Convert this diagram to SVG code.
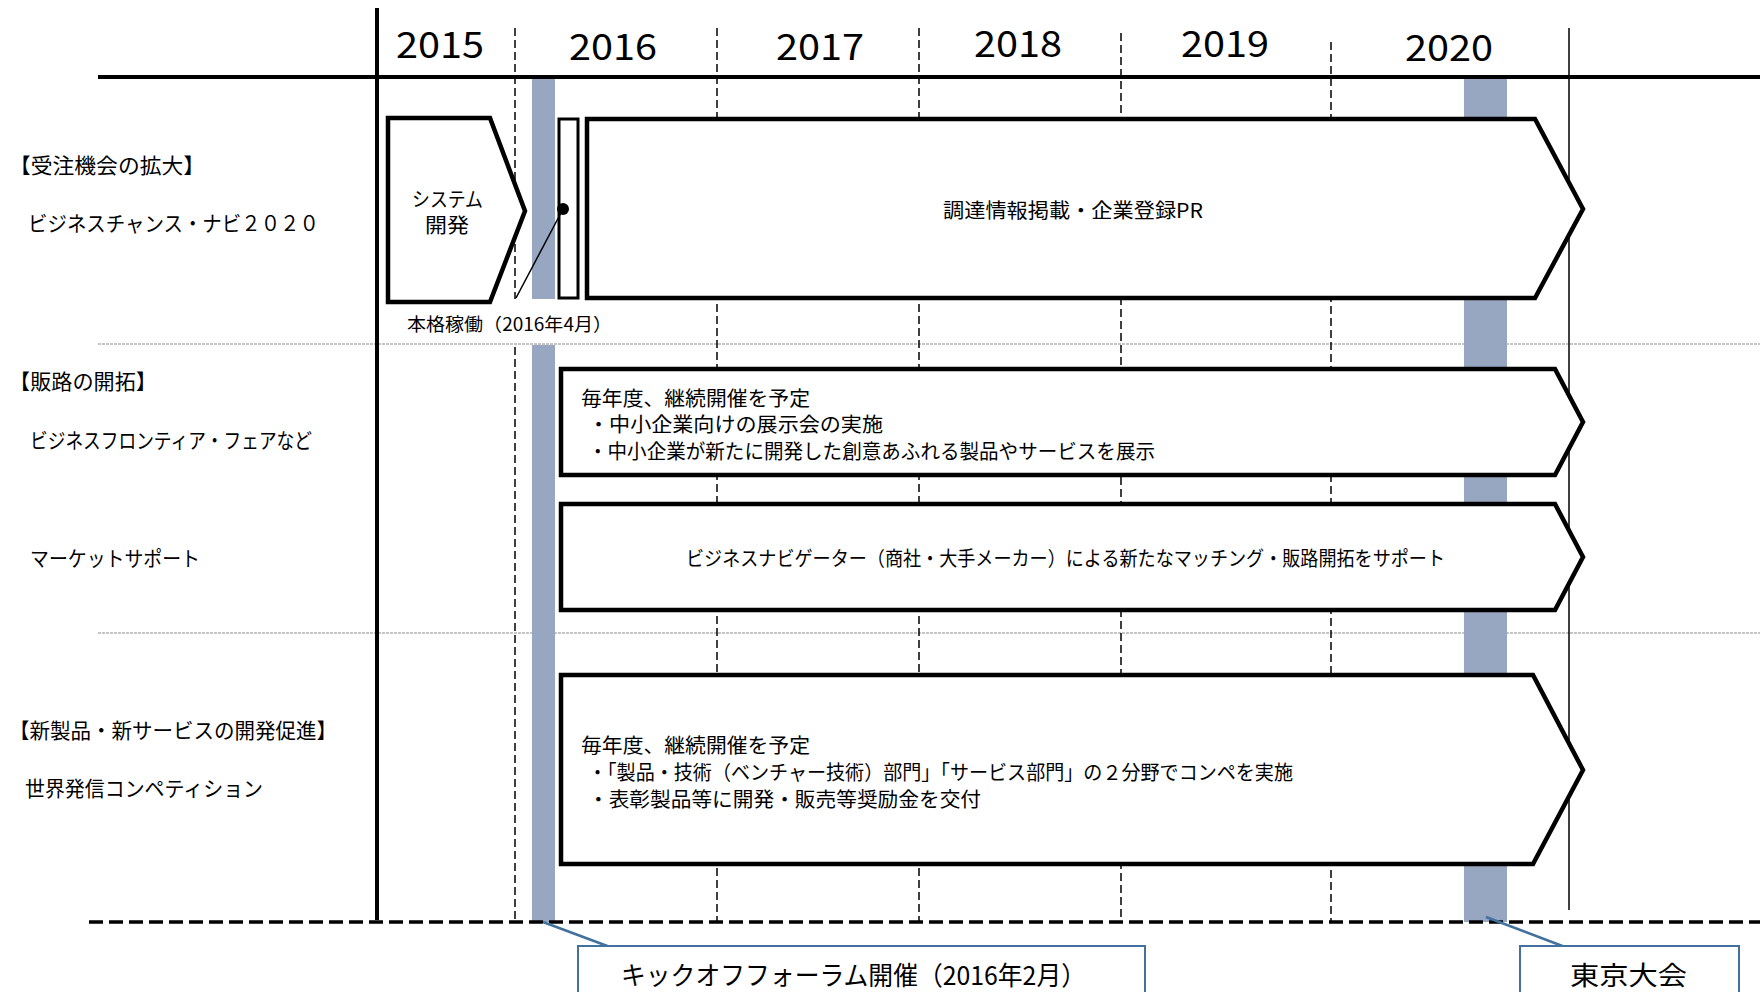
<svg xmlns="http://www.w3.org/2000/svg" width="1760" height="992" viewBox="0 0 1760 992">
<style>
text{font-family:"Noto Sans CJK JP","Noto Sans CJK SC",sans-serif;fill:#000}
.yr{font-size:36px}
.lab{font-size:21px}
.bx{font-size:20px}
.sm{font-size:18px}
.co{font-size:26px}
.box{fill:#fff;stroke:#000;stroke-width:4.5;stroke-linejoin:miter}
.vd{stroke:#000;stroke-width:1.5;stroke-dasharray:8 4;fill:none}
.sep{stroke:#8a8a8a;stroke-width:1.2;stroke-dasharray:3 1;fill:none}
.bar{fill:#98a7c1}
.cl{stroke:#41719c;stroke-width:2.5;fill:none}
.cb{fill:#fff;stroke:#41719c;stroke-width:2}
</style>
<rect width="1760" height="992" fill="#fff"/>
<g id="grid">
<line class="sep" x1="98" y1="344" x2="1760" y2="344"/>
<line class="sep" x1="98" y1="633" x2="1760" y2="633"/>
<line class="vd" x1="515" y1="28" x2="515" y2="299"/>
<line class="vd" x1="515" y1="347" x2="515" y2="922"/>
<line class="vd" x1="717" y1="28" x2="717" y2="922"/>
<line class="vd" x1="919" y1="28" x2="919" y2="922"/>
<line class="vd" x1="1121" y1="33" x2="1121" y2="922"/>
<line class="vd" x1="1331" y1="42" x2="1331" y2="922"/>
<rect class="bar" x="532" y="79" width="23" height="220"/>
<rect class="bar" x="532" y="345" width="23" height="577"/>
<rect class="bar" x="1464" y="79" width="43" height="843"/>
<line x1="98" y1="77" x2="1760" y2="77" stroke="#000" stroke-width="4"/>
<line x1="377" y1="8" x2="377" y2="920" stroke="#000" stroke-width="4"/>
<line x1="1569" y1="28" x2="1569" y2="910" stroke="#000" stroke-width="1.5"/>
<line x1="89" y1="922" x2="1760" y2="922" stroke="#000" stroke-width="3.5" stroke-dasharray="14 6"/>
</g>
<g id="years">
<text class="yr" x="396" y="58" textLength="88" lengthAdjust="spacingAndGlyphs">2015</text>
<text class="yr" x="569" y="60" textLength="88" lengthAdjust="spacingAndGlyphs">2016</text>
<text class="yr" x="776" y="60" textLength="88" lengthAdjust="spacingAndGlyphs">2017</text>
<text class="yr" x="974" y="57" textLength="88" lengthAdjust="spacingAndGlyphs">2018</text>
<text class="yr" x="1181" y="57" textLength="88" lengthAdjust="spacingAndGlyphs">2019</text>
<text class="yr" x="1405" y="61" textLength="88" lengthAdjust="spacingAndGlyphs">2020</text>
</g>
<g id="labels">
<text class="lab" x="9" y="164" dominant-baseline="central" textLength="196" lengthAdjust="spacingAndGlyphs">【受注機会の拡大】</text>
<text class="lab" x="28" y="222" dominant-baseline="central" textLength="291" lengthAdjust="spacingAndGlyphs">ビジネスチャンス・ナビ２０２０</text>
<text class="lab" x="9" y="380" dominant-baseline="central" textLength="148" lengthAdjust="spacingAndGlyphs">【販路の開拓】</text>
<text class="lab" x="30" y="439" dominant-baseline="central" textLength="282" lengthAdjust="spacingAndGlyphs">ビジネスフロンティア・フェアなど</text>
<text class="lab" x="30" y="557" dominant-baseline="central" textLength="170" lengthAdjust="spacingAndGlyphs">マーケットサポート</text>
<text class="lab" x="9" y="729" dominant-baseline="central" textLength="328" lengthAdjust="spacingAndGlyphs">【新製品・新サービスの開発促進】</text>
<text class="lab" x="25" y="787" dominant-baseline="central" textLength="238" lengthAdjust="spacingAndGlyphs">世界発信コンペティション</text>
</g>
<g id="system-dev">
<path class="box" d="M388,118 L490,118 L525,211 L490,302 L388,302 Z"/>
<text class="bx" x="412" y="198" dominant-baseline="central" textLength="71" lengthAdjust="spacingAndGlyphs">システム</text>
<text class="bx" x="425" y="224" dominant-baseline="central" textLength="44" lengthAdjust="spacingAndGlyphs">開発</text>
</g>
<g id="launch">
<rect x="559" y="119" width="19" height="179" fill="#fff" stroke="#000" stroke-width="3"/>
<line x1="563" y1="209" x2="516" y2="298" stroke="#000" stroke-width="1.5"/>
<circle cx="563" cy="209" r="6" fill="#000"/>
<text class="sm" x="407" y="323" dominant-baseline="central" textLength="205" lengthAdjust="spacingAndGlyphs">本格稼働（2016年4月）</text>
</g>
<g id="procurement">
<path class="box" d="M587,119 L1535,119 L1583,209 L1535,298 L587,298 Z"/>
<text class="bx" x="943" y="209" dominant-baseline="central" textLength="260" lengthAdjust="spacingAndGlyphs">調達情報掲載・企業登録PR</text>
</g>
<g id="frontier">
<path class="box" d="M561,369 L1555,369 L1583,422 L1555,475 L561,475 Z"/>
<text class="bx" x="581" y="397" dominant-baseline="central" textLength="229" lengthAdjust="spacingAndGlyphs">毎年度、継続開催を予定</text>
<text class="bx" x="588" y="423" dominant-baseline="central" textLength="295" lengthAdjust="spacingAndGlyphs">・中小企業向けの展示会の実施</text>
<text class="bx" x="588" y="450" dominant-baseline="central" textLength="567" lengthAdjust="spacingAndGlyphs">・中小企業が新たに開発した創意あふれる製品やサービスを展示</text>
</g>
<g id="market">
<path class="box" d="M561,504 L1555,504 L1583,557 L1555,610 L561,610 Z"/>
<text class="bx" x="686" y="557" dominant-baseline="central" textLength="759" lengthAdjust="spacingAndGlyphs">ビジネスナビゲーター（商社・大手メーカー）による新たなマッチング・販路開拓をサポート</text>
</g>
<g id="competition">
<path class="box" d="M561,675 L1533,675 L1583,770 L1533,864 L561,864 Z"/>
<text class="bx" x="581" y="744" dominant-baseline="central" textLength="229" lengthAdjust="spacingAndGlyphs">毎年度、継続開催を予定</text>
<text class="bx" x="588" y="771" dominant-baseline="central" textLength="705" lengthAdjust="spacingAndGlyphs">・「製品・技術（ベンチャー技術）部門」「サービス部門」の２分野でコンペを実施</text>
<text class="bx" x="588" y="798" dominant-baseline="central" textLength="393" lengthAdjust="spacingAndGlyphs">・表彰製品等に開発・販売等奨励金を交付</text>
</g>
<g id="connectors">
<line class="cl" x1="543" y1="922" x2="610" y2="947"/>
<line class="cl" x1="1486" y1="917" x2="1565" y2="947"/>
</g>
<g id="kickoff">
<rect class="cb" x="578" y="946" width="567" height="60"/>
<text class="co" x="621" y="973" dominant-baseline="central" textLength="465" lengthAdjust="spacingAndGlyphs">キックオフフォーラム開催（2016年2月）</text>
</g>
<g id="tokyo">
<rect class="cb" x="1520" y="946" width="219" height="60"/>
<text class="co" x="1570" y="973" dominant-baseline="central" textLength="117" lengthAdjust="spacingAndGlyphs">東京大会</text>
</g>
</svg>
